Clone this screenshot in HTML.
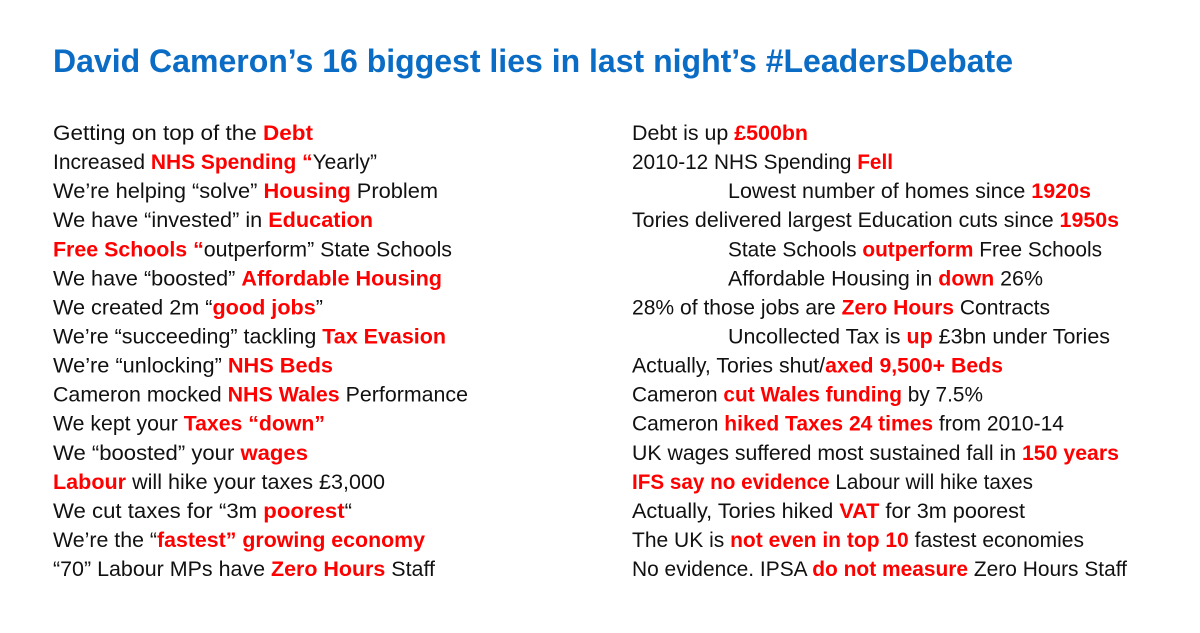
<!DOCTYPE html>
<html><head><meta charset="utf-8"><style>
html,body{margin:0;padding:0;background:#fff;}
svg{display:block;}
text{font-family:"Liberation Sans",Arial,sans-serif;}
.l{font-size:21px;fill:#111;}
.r{fill:#ff0000;font-weight:bold;}
.t{font-size:32px;font-weight:bold;fill:#0a6cc4;}
</style></head><body>
<svg width="1200" height="633" viewBox="0 0 1200 633">
<text class="t" x="53" y="72" textLength="960" lengthAdjust="spacingAndGlyphs">David Cameron’s 16 biggest lies in last night’s #LeadersDebate</text>
<g id="left"></g>
<g id="right"></g>
</svg>
<script>
const leftLines=[
 [[0,"Getting on top of the "],[1,"Debt"]],
 [[0,"Increased "],[1,"NHS Spending “"],[0,"Yearly”"]],
 [[0,"We’re helping “solve” "],[1,"Housing"],[0," Problem"]],
 [[0,"We have “invested” in "],[1,"Education"]],
 [[1,"Free Schools “"],[0,"outperform” State Schools"]],
 [[0,"We have “boosted” "],[1,"Affordable Housing"]],
 [[0,"We created 2m “"],[1,"good jobs"],[0,"”"]],
 [[0,"We’re “succeeding” tackling "],[1,"Tax Evasion"]],
 [[0,"We’re “unlocking” "],[1,"NHS Beds"]],
 [[0,"Cameron mocked "],[1,"NHS Wales"],[0," Performance"]],
 [[0,"We kept your "],[1,"Taxes “down”"]],
 [[0,"We “boosted” your "],[1,"wages"]],
 [[1,"Labour"],[0," will hike your taxes £3,000"]],
 [[0,"We cut taxes for “3m "],[1,"poorest"],[0,"“"]],
 [[0,"We’re the “"],[1,"fastest” growing economy"]],
 [[0,"“70” Labour MPs have "],[1,"Zero Hours"],[0," Staff"]]
];
const leftEnds=[313,377,438,373,452,442,323,446,333,468,325,308,385,352,425,435];
const rightLines=[
 [[0,"Debt is up "],[1,"£500bn"]],
 [[0,"2010-12 NHS Spending "],[1,"Fell"]],
 [[0,"Lowest number of homes since "],[1,"1920s"]],
 [[0,"Tories delivered largest Education cuts since "],[1,"1950s"]],
 [[0,"State Schools "],[1,"outperform"],[0," Free Schools"]],
 [[0,"Affordable Housing in "],[1,"down"],[0," 26%"]],
 [[0,"28% of those jobs are "],[1,"Zero Hours"],[0," Contracts"]],
 [[0,"Uncollected Tax is "],[1,"up"],[0," £3bn under Tories"]],
 [[0,"Actually, Tories shut/"],[1,"axed 9,500+ Beds"]],
 [[0,"Cameron "],[1,"cut Wales funding"],[0," by 7.5%"]],
 [[0,"Cameron "],[1,"hiked Taxes 24 times"],[0," from 2010-14"]],
 [[0,"UK wages suffered most sustained fall in "],[1,"150 years"]],
 [[1,"IFS say no evidence"],[0," Labour will hike taxes"]],
 [[0,"Actually, Tories hiked "],[1,"VAT"],[0," for 3m poorest"]],
 [[0,"The UK is "],[1,"not even in top 10"],[0," fastest economies"]],
 [[0,"No evidence. IPSA "],[1,"do not measure"],[0," Zero Hours Staff"]]
];
const rightIndent=[0,0,1,0,1,1,0,1,0,0,0,0,0,0,0,0];
const rightEnds=[808,893,1091,1119,1102,1043,1050,1110,1003,983,1064,1119,1033,1025,1084,1127];
const NS="http://www.w3.org/2000/svg";
function draw(gid,lines,starts,ends,name){
 const g=document.getElementById(gid);
 lines.forEach((ln,i)=>{
  const t=document.createElementNS(NS,"text");
  t.setAttribute("class","l");
  t.setAttribute("x",starts[i]);
  t.setAttribute("y",140+i*29.07);
  t.setAttribute("textLength",ends[i]-starts[i]);
  t.setAttribute("lengthAdjust","spacingAndGlyphs");
  
  
  ln.forEach(p=>{
   const s=document.createElementNS(NS,"tspan");
   if(p[0])s.setAttribute("class","r");
   s.textContent=p[1];
   t.appendChild(s);
  });
  g.appendChild(t);
 });
}
draw("left",leftLines,leftLines.map(()=>53),leftEnds,"claim");
draw("right",rightLines,rightIndent.map(v=>v?728:632),rightEnds,"fact");
</script>
</body></html>
